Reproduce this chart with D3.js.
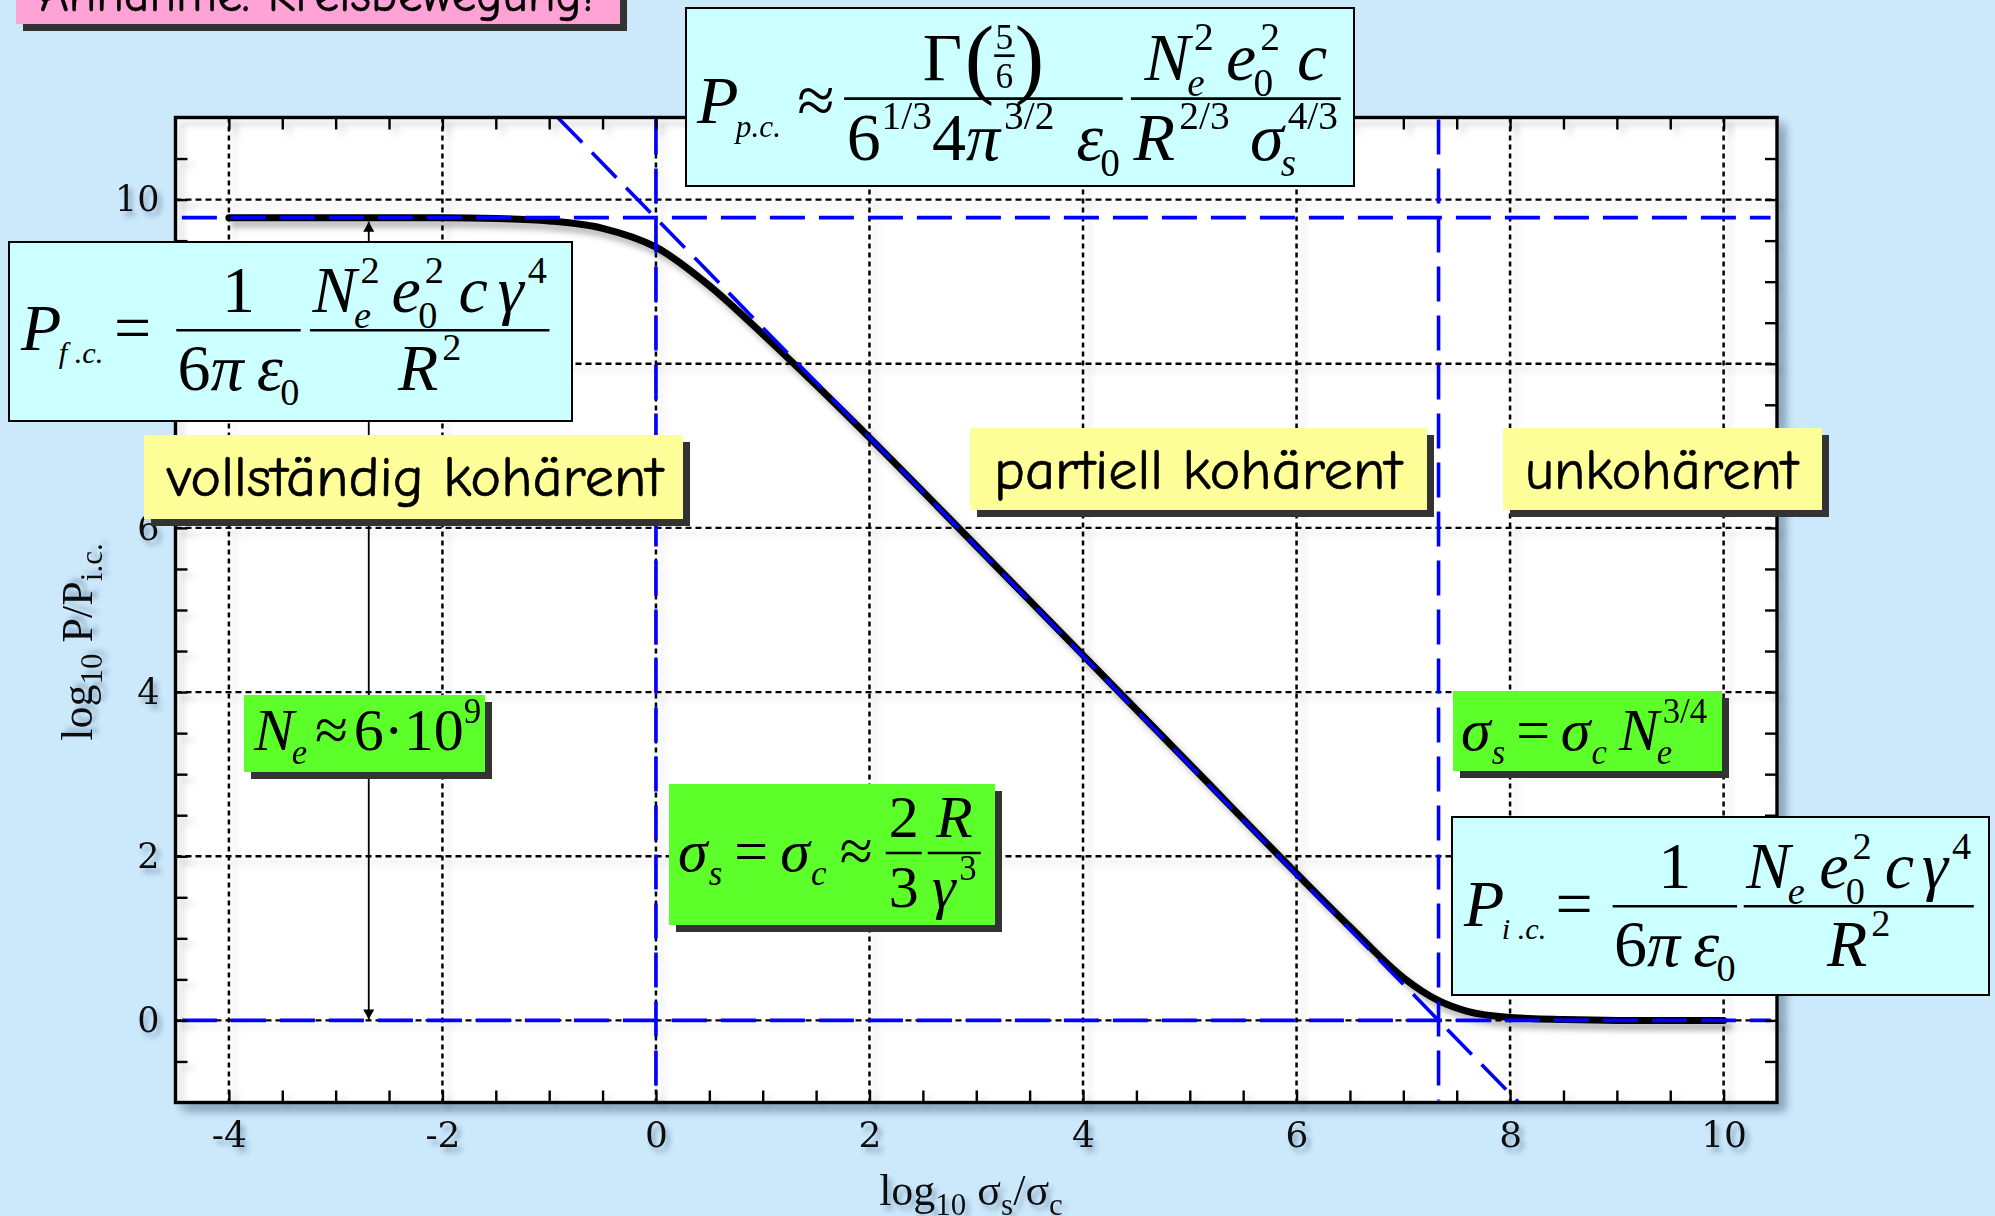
<!DOCTYPE html>
<html>
<head>
<meta charset="utf-8">
<script src="https://cdn.jsdelivr.net/npm/d3@7"></script>
<style>
  html, body { margin: 0; padding: 0; background: #cce8fb; overflow: hidden; }
  svg { display: block; }
</style>
</head>
<body>
<svg id="chart" width="1995" height="1216"></svg>
<script>
// Radiated power of a bunch on a circular orbit versus bunch length
// x: log10(sigma_s / sigma_c), y: log10(P / P_i.c.)

const xGridValues = [-4, -2, 0, 2, 4, 6, 8, 10];
const xTickLabels = ['-4', '-2', '0', '2', '4', '6', '8', '10'];
const yGridValues = [0, 2, 4, 6, 8, 10];
const yTickLabels = ['0', '2', '4', '6', '8', '10'];

// Power curve (black)
const curveX = [-4, -3, -2, -1.5, -1, -0.5, 0, 0.5, 1, 1.5, 2, 3, 4, 5, 6, 6.5, 7, 7.33, 7.6, 8, 8.5, 9, 10];
const curveY = [9.78, 9.78, 9.78, 9.77, 9.74, 9.65, 9.42, 8.95, 8.36, 7.74, 7.10, 5.78, 4.45, 3.12, 1.79, 1.14, 0.52, 0.24, 0.11, 0.035, 0.01, 0.0, 0.0];

// Asymptotes (blue dashed)
const levelCoherent = 9.78;          // log10 N_e
const levelIncoherent = 0;
const sigmaMarks = [0, 7.33];        // sigma_s = sigma_c  and  sigma_s = sigma_c N_e^(3/4)
const slopeX = [-0.92, 8.08];        // -4/3 power law, from top to bottom of the frame
const slopeY = [11, -1];
const arrowX = -2.69;

const W = 1995, H = 1216;
const svg = d3.select('#chart');
const defs = svg.append('defs');

function shadowFilter(id, dx, dy, sd, color, op) {
  const f = defs.append('filter').attr('id', id)
    .attr('filterUnits', 'userSpaceOnUse')
    .attr('x', -4000).attr('y', -4000).attr('width', 8000).attr('height', 8000);
  f.append('feDropShadow').attr('dx', dx).attr('dy', dy).attr('stdDeviation', sd)
    .attr('flood-color', color).attr('flood-opacity', op);
}
shadowFilter('shFrame', 9, 9, 5, '#4d6f8f', 0.45);
shadowFilter('shGrid', 6, 6, 3, '#000', 0.17);
shadowFilter('shText', 4, 5, 2.5, '#3a5f80', 0.45);
shadowFilter('shCurve', 5, 6, 3, '#000', 0.3);

defs.append('marker').attr('id', 'arrowHead')
  .attr('viewBox', '0 0 10 14').attr('refX', 10).attr('refY', 7)
  .attr('markerUnits', 'userSpaceOnUse').attr('markerWidth', 16).attr('markerHeight', 14)
  .attr('orient', 'auto-start-reverse')
  .append('path').attr('d', 'M0,1.5 L10,7 L0,12.5 Z').attr('fill', '#000');

svg.append('rect').attr('width', W).attr('height', H).attr('fill', '#cce8fb');

const x = d3.scaleLinear().domain([-4.5, 10.5]).range([175.5, 1777]);
const y = d3.scaleLinear().domain([-1, 11]).range([1102.5, 117.5]);
const [x0, x1] = x.range();
const [y1, y0] = [y(-1), y(11)];

// plot area
svg.append('rect').attr('x', x0).attr('y', y0).attr('width', x1 - x0).attr('height', y1 - y0)
  .attr('fill', '#fff').attr('filter', 'url(#shFrame)');

// grid
const grid = svg.append('g').attr('filter', 'url(#shGrid)');
grid.selectAll('line.v').data(xGridValues).join('line').attr('class', 'v')
  .attr('x1', d => x(d)).attr('x2', d => x(d)).attr('y1', y0).attr('y2', y1)
  .attr('stroke', '#000').attr('stroke-width', 2.5).attr('stroke-dasharray', '5,4');
grid.selectAll('line.h').data(yGridValues).join('line').attr('class', 'h')
  .attr('x1', x0).attr('x2', x1).attr('y1', d => y(d)).attr('y2', d => y(d))
  .attr('stroke', '#000').attr('stroke-width', 2.3).attr('stroke-dasharray', '6,4');

// curve
const pts = curveX.map((v, i) => [v, curveY[i]]);
svg.append('path').datum(pts)
  .attr('d', d3.line().x(d => x(d[0])).y(d => y(d[1])).curve(d3.curveMonotoneX))
  .attr('fill', 'none').attr('stroke', '#000').attr('stroke-width', 7)
  .attr('stroke-linecap', 'round').attr('filter', 'url(#shCurve)');

// arrow between the two power levels
svg.append('line')
  .attr('x1', x(arrowX)).attr('x2', x(arrowX))
  .attr('y1', y(levelCoherent) + 4).attr('y2', y(levelIncoherent) - 1)
  .attr('stroke', '#000').attr('stroke-width', 1.8)
  .attr('marker-start', 'url(#arrowHead)').attr('marker-end', 'url(#arrowHead)');

// asymptotes
const blue = svg.append('g').attr('stroke', '#0000ff').attr('stroke-width', 3.6)
  .attr('stroke-dasharray', '35,14').attr('fill', 'none');
[levelCoherent, levelIncoherent].forEach(v => {
  blue.append('line').attr('x1', x(-4.44)).attr('x2', x(10.44)).attr('y1', y(v)).attr('y2', y(v));
});
sigmaMarks.forEach(v => {
  blue.append('line').attr('x1', x(v)).attr('x2', x(v)).attr('y1', y0 + 2).attr('y2', y1 - 2);
});
blue.append('line').attr('x1', x(slopeX[0])).attr('y1', y(slopeY[0]))
  .attr('x2', x(slopeX[1])).attr('y2', y(slopeY[1]));

// frame and inward ticks
const frame = svg.append('g').attr('filter', 'url(#shGrid)');
const xMinor = d3.range(-4, 10.01, 0.5);
const yMinor = d3.range(-0.5, 10.51, 0.5);
function tickAxis(axis, tr) {
  const g = frame.append('g').attr('transform', tr).call(axis);
  g.select('.domain').remove();
  g.selectAll('.tick line').attr('stroke', '#000').attr('stroke-width', 2.4);
  g.selectAll('.tick text').remove();
}
tickAxis(d3.axisBottom(x).tickValues(xMinor).tickSize(-12), `translate(0,${y1})`);
tickAxis(d3.axisTop(x).tickValues(xMinor).tickSize(-12), `translate(0,${y0})`);
tickAxis(d3.axisLeft(y).tickValues(yMinor).tickSize(-12), `translate(${x0},0)`);
tickAxis(d3.axisRight(y).tickValues(yMinor).tickSize(-12), `translate(${x1},0)`);
frame.append('rect').attr('x', x0).attr('y', y0).attr('width', x1 - x0).attr('height', y1 - y0)
  .attr('fill', 'none').attr('stroke', '#000').attr('stroke-width', 3.4);

// tick labels
const labelFont = "'DejaVu Serif', serif";
const xLab = svg.append('g').attr('transform', `translate(0,${y1 + 19})`)
  .call(d3.axisBottom(x).tickValues(xGridValues).tickSize(0).tickPadding(0)
    .tickFormat((d, i) => xTickLabels[i]));
xLab.select('.domain').remove();
xLab.selectAll('text').attr('font-family', labelFont).attr('font-size', 36)
  .attr('fill', '#111').attr('dy', '0.71em').attr('filter', 'url(#shText)');
const yLab = svg.append('g').attr('transform', `translate(${x0 - 16},0)`)
  .call(d3.axisLeft(y).tickValues(yGridValues).tickSize(0).tickPadding(0)
    .tickFormat((d, i) => yTickLabels[i]));
yLab.select('.domain').remove();
yLab.selectAll('text').attr('font-family', labelFont).attr('font-size', 35)
  .attr('fill', '#111').attr('filter', 'url(#shText)');

// ---------- small formula typesetter ----------
const SERIF = "'Liberation Serif','Times New Roman',Times,serif";
let mathAxis = 0.33;
function put(g, s, px, py, fs, it) {
  return g.append('text').attr('x', px).attr('y', py).attr('font-family', SERIF)
    .attr('font-size', fs).attr('font-style', it ? 'italic' : 'normal').attr('fill', '#000').text(s);
}
const adv = t => t.node().getComputedTextLength();
const isUpright = s => /^[0-9/]+$/.test(s);

function row(g, atoms, fs) {
  let cx = 0;
  for (const a of atoms) {
    cx += (a.sp || 0) * fs;
    if (a.frac) { cx += frac(g, cx, a, fs); continue; }
    const base = put(g, a.t, cx, (a.dy || 0) * fs, fs * (a.s || 1), a.i);
    cx += adv(base);
    const ss = fs * (a.ss || 0.58);
    let w = 0;
    if (a.sup != null) {
      const k = (a.supK != null ? a.supK : (a.i ? 0.06 : 0.01)) * fs;
      const t = put(g, a.sup, cx + k, -0.45 * fs, ss, !isUpright(a.sup));
      w = Math.max(w, k + adv(t));
    }
    if (a.sub != null) {
      const k = (a.subK != null ? a.subK : (a.i ? -0.04 : 0.01)) * fs;
      const t = put(g, a.sub, cx + k, (a.subY || 0.24) * fs, ss, !isUpright(a.sub));
      w = Math.max(w, k + adv(t));
    }
    cx += w;
  }
  return cx;
}
function frac(g, px, a, fs) {
  const fi = fs * (a.s || 1);
  const gn = g.append('g'), gd = g.append('g');
  const wn = row(gn, a.frac[0], fi), wd = row(gd, a.frac[1], fi);
  const pad = (a.pad != null ? a.pad : 0.06) * fs;
  const w = Math.max(wn, wd) + 2 * pad;
  const ly = -mathAxis * fs;
  const up = a.up != null ? a.up : 0.27;
  g.append('line').attr('x1', px).attr('x2', px + w).attr('y1', ly).attr('y2', ly)
    .attr('stroke', '#000').attr('stroke-width', Math.max(1.6, 0.04 * fs));
  gn.attr('transform', `translate(${px + (w - wn) / 2},${ly - up * fi})`);
  gd.attr('transform', `translate(${px + (w - wd) / 2},${ly + 0.9 * fi})`);
  return w;
}
function formula(px, py, fs, atoms, ax = 0.33) {
  mathAxis = ax;
  const g = svg.append('g').attr('transform', `translate(${px},${py})`);
  row(g, atoms, fs);
  return g;
}

// ---------- boxes ----------
function box(bx0, by0, bx1, by1, fill, opts = {}) {
  if (opts.shadow) {
    svg.append('rect').attr('x', bx0 + 7).attr('y', by0 + 7).attr('width', bx1 - bx0).attr('height', by1 - by0)
      .attr('fill', '#333');
  }
  svg.append('rect').attr('x', bx0).attr('y', by0).attr('width', bx1 - bx0).attr('height', by1 - by0)
    .attr('fill', fill).attr('stroke', opts.border ? '#000' : 'none').attr('stroke-width', 2);
}
const HAND = "'Comic Sans MS','Comic Neue','Noto Sans',sans-serif";
function label(txt, px, py, len, fs) {
  svg.append('text').attr('x', px).attr('y', py).attr('font-family', HAND).attr('font-size', fs)
    .attr('textLength', len).attr('lengthAdjust', 'spacingAndGlyphs').attr('fill', '#000')
    .attr('stroke', '#000').attr('stroke-width', 0.6).text(txt);
}

// heading (mostly above the page)
box(16, -30, 620, 24, '#ffa3d6', { shadow: true });
label('Annahme: Kreisbewegung!', 40, 11, 554, 52);

// P_p.c.
box(686, 8, 1354, 186, '#ccffff', { border: true });
formula(697, 123, 68, [
  { t: 'P', i: 1, sub: 'p.c.', ss: 0.46, subY: 0.2 },
  { t: '≈', sp: 0.24 },
  { sp: 0.14, pad: 0.04, frac: [
    [{ t: 'Γ' }, { t: '(', s: 1.3, dy: 0.1, sp: 0.04 }, { frac: [[{ t: '5' }], [{ t: '6' }]], s: 0.52, pad: 0.02, up: 0.2 }, { t: ')', s: 1.3, dy: 0.1 }],
    [{ t: '6', sup: '1/3' }, { t: '4' }, { t: 'π', i: 1, sup: '3/2' }, { t: 'ε', i: 1, sp: 0.32, sub: '0' }]
  ] },
  { sp: 0.12, pad: 0.04, frac: [
    [{ t: 'N', i: 1, sup: '2', sub: 'e' }, { t: 'e', i: 1, sp: 0.18, sup: '2', sub: '0' }, { t: 'c', i: 1, sp: 0.25 }],
    [{ t: 'R', i: 1, sup: '2/3' }, { t: 'σ', i: 1, sp: 0.3, sup: '4/3', sub: 's' }]
  ] }
], 0.36);

// P_f.c.
box(9, 242, 572, 421, '#ccffff', { border: true });
formula(21, 350, 66, [
  { t: 'P', i: 1, sub: 'f .c.', ss: 0.46, subY: 0.2 },
  { t: '=', sp: 0.16 },
  { sp: 0.38, pad: 0.02, frac: [
    [{ t: '1' }],
    [{ t: '6' }, { t: 'π', i: 1 }, { t: 'ε', i: 1, sp: 0.2, sub: '0' }]
  ] },
  { sp: 0.14, pad: 0.04, frac: [
    [{ t: 'N', i: 1, sup: '2', sub: 'e' }, { t: 'e', i: 1, sp: 0.18, sup: '2', sub: '0' }, { t: 'c', i: 1, sp: 0.22 }, { t: 'γ', i: 1, sp: 0.15, sup: '4' }],
    [{ t: 'R', i: 1, sup: '2' }]
  ] }
], 0.3);

// P_i.c.
box(1452, 817, 1989, 995, '#ccffff', { border: true });
formula(1464, 926, 66, [
  { t: 'P', i: 1, sub: 'i .c.', ss: 0.46, subY: 0.2 },
  { t: '=', sp: 0.14 },
  { sp: 0.3, pad: 0.02, frac: [
    [{ t: '1' }],
    [{ t: '6' }, { t: 'π', i: 1 }, { t: 'ε', i: 1, sp: 0.2, sub: '0' }]
  ] },
  { sp: 0.1, pad: 0.04, frac: [
    [{ t: 'N', i: 1, sub: 'e' }, { t: 'e', i: 1, sp: 0.22, sup: '2', sub: '0' }, { t: 'c', i: 1, sp: 0.2 }, { t: 'γ', i: 1, sp: 0.12, sup: '4' }],
    [{ t: 'R', i: 1, sup: '2' }]
  ] }
], 0.3);

// regime labels
box(144, 435, 683, 519, '#ffff99', { shadow: true });
label('vollständig kohärent', 167, 496, 496, 56);
box(970, 428, 1427, 510, '#ffff99', { shadow: true });
label('partiell kohärent', 994, 489, 408, 56);
box(1503, 428, 1822, 510, '#ffff99', { shadow: true });
label('unkohärent', 1525, 489, 273, 56);

// green annotations
box(244, 695, 485, 772, '#5cff2a', { shadow: true });
formula(254, 750, 60, [
  { t: 'N', i: 1, sub: 'e' },
  { t: '≈', sp: 0.13 },
  { t: '6·10', sp: 0.1, sup: '9', supK: 0.0 }
]);

box(669, 784, 995, 925, '#5cff2a', { shadow: true });
formula(678, 871, 60, [
  { t: 'σ', i: 1, sub: 's', subK: 0.02 },
  { t: '=', sp: 0.2 },
  { t: 'σ', i: 1, sp: 0.2, sub: 'c', subK: 0.02 },
  { t: '≈', sp: 0.22 },
  { sp: 0.22, pad: 0.05, frac: [[{ t: '2' }], [{ t: '3' }]] },
  { sp: 0.1, pad: 0.07, frac: [[{ t: 'R', i: 1 }], [{ t: 'γ', i: 1, sup: '3' }]] }
], 0.3);

box(1453, 691, 1722, 771, '#5cff2a', { shadow: true });
formula(1461, 750, 60, [
  { t: 'σ', i: 1, sub: 's', subK: 0.02 },
  { t: '=', sp: 0.18 },
  { t: 'σ', i: 1, sp: 0.18, sub: 'c', subK: 0.02 },
  { t: 'N', i: 1, sp: 0.2, sup: '3/4', sub: 'e' }
]);

// axis titles
const xt = svg.append('text').attr('x', 971).attr('y', 1205).attr('text-anchor', 'middle')
  .attr('font-family', SERIF).attr('font-size', 44).attr('fill', '#111').attr('filter', 'url(#shText)');
xt.append('tspan').text('log');
xt.append('tspan').attr('font-size', 31).attr('dy', 10).text('10');
xt.append('tspan').attr('dy', -10).text(' σ');
xt.append('tspan').attr('font-size', 31).attr('dy', 10).text('s');
xt.append('tspan').attr('dy', -10).text('/σ');
xt.append('tspan').attr('font-size', 31).attr('dy', 10).text('c');

const yt = svg.append('text').attr('transform', 'translate(92,642) rotate(-90)').attr('text-anchor', 'middle')
  .attr('font-family', SERIF).attr('font-size', 44).attr('fill', '#111').attr('filter', 'url(#shText)');
yt.append('tspan').text('log');
yt.append('tspan').attr('font-size', 31).attr('dy', 10).text('10');
yt.append('tspan').attr('dy', -10).text(' P/P');
yt.append('tspan').attr('font-size', 31).attr('dy', 10).text('i.c.');
</script>
</body>
</html>
